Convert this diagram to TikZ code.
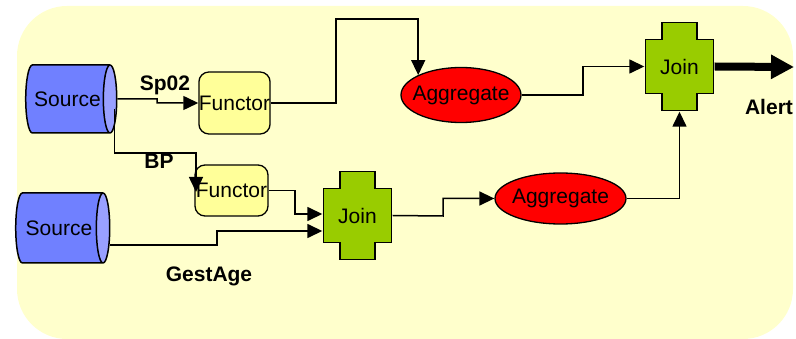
\documentclass[tikz,border=0pt]{standalone}
\usepackage{fontspec}
\setmainfont{Liberation Sans}
\usetikzlibrary{positioning,calc,arrows.meta,shapes.geometric}

\definecolor{bgyellow}{HTML}{FFFFCC}
\definecolor{srcblue}{HTML}{7080FF}
\definecolor{capblue}{HTML}{99A0FF}
\definecolor{funyellow}{HTML}{FFFF99}
\definecolor{joingreen}{HTML}{99CC00}
\definecolor{aggred}{HTML}{FF0000}

\begin{document}
\begin{tikzpicture}[
  x=1pt, y=-1pt,
  font=\fontsize{21}{25}\selectfont,
  source/.style={cylinder, draw, line width=1.5pt, aspect=0.9,
                 cylinder uses custom fill, cylinder body fill=srcblue,
                 cylinder end fill=capblue, inner sep=0pt,
                 minimum width=#1, minimum height=91pt},
  source/.default=68pt,
  functor/.style={draw, line width=1.3pt, rounded corners=10pt, fill=funyellow,
                  inner sep=0pt, minimum width=71pt, minimum height=#1},
  functor/.default=62pt,
  agg/.style={ellipse, draw, line width=1.3pt, fill=aggred, inner ysep=0pt,
              inner xsep=-7pt, minimum width=#1, minimum height=55pt},
  agg/.default=120pt,
  joinbox/.style={inner sep=0pt, minimum width=70pt, minimum height=90pt,
    path picture={
      \draw[line width=1.3pt, fill=joingreen]
        ([shift={(-17.5,-44)}]path picture bounding box.center)
        -- ++(35,0) -- ++(0,17) -- ++(16.5,0) -- ++(0,54) -- ++(-16.5,0)
        -- ++(0,17) -- ++(-35,0) -- ++(0,-17) -- ++(-16.5,0) -- ++(0,-54)
        -- ++(16.5,0) -- cycle;}},
  lbl/.style={font=\fontsize{21}{25}\selectfont\bfseries, inner sep=0pt},
  arr/.style={-{Triangle[length=15pt, width=14pt]}, line width=1.5pt}]
\useasboundingbox (0,0) rectangle (796,339);
\fill[bgyellow, rounded corners=50pt] (17,6) rectangle (793,339);

\node[source] (src1) at (67.5,99) {Source};
\node[source=70pt, minimum height=94pt] (src2) at (59,228) {Source};
\node[functor] (fun1) at (234.5,103) {Functor};
\node[functor=51pt, minimum width=73pt] (fun2) at (231.5,190.5) {Functor};
\node[joinbox] (join1) at (357.5,215.5) {Join};
\node[joinbox] (join2) at (679.5,66.5) {Join};
\node[agg] (agg1) at (461,95) {Aggregate};
\node[agg=131pt, minimum height=51pt, inner xsep=-4pt] (agg2) at (560.5,198.5) {Aggregate};

\node[lbl] (sp) at (165,85) {Sp02};
\node[lbl] (bp) at (159,161) {BP};
\node[lbl] (gest) at (209,276) {GestAge};
\node[lbl] (alert) at (769,107) {Alert};
\coordinate (alertend) at (794,67);

\draw[arr] (src1.east) -- (157,99) |- (fun1.west);
\draw[arr] ([shift={(-3,10)}]src1.east) |- (196,153) -- (196,192);
\draw[arr] (fun1.east) -| (336,19) -| (agg1.155);
\draw[arr] (agg1.east) -- (583,95) |- (join2.west);
\draw[arr] (agg2.east) -| (join2.south);
\draw[arr] (fun2.east) -| (295,214) -- (join1.west |- 0,214);
\draw[arr] (src2.east |- 0,245) -| (217,231) -- (join1.west |- 0,231);
\draw[arr] (join1.east) -- (443,216) |- (agg2.west);
\draw[-{Triangle[length=23pt, width=23pt]}, line width=8pt] (join2.east) -- (alertend);
\end{tikzpicture}
\end{document}
